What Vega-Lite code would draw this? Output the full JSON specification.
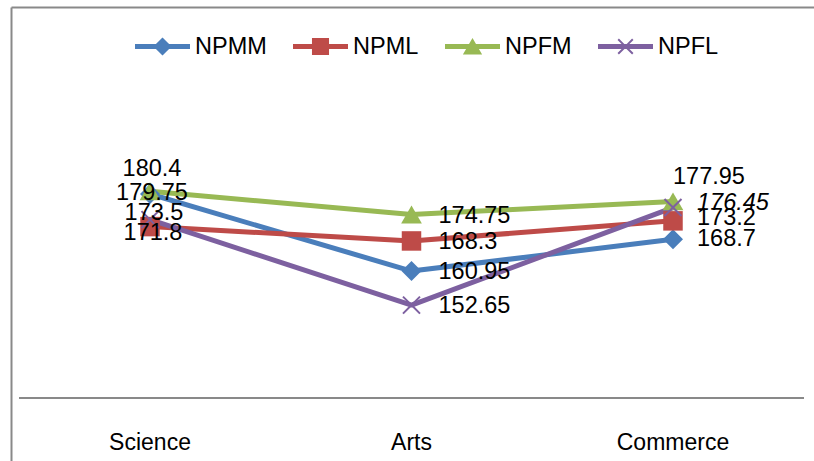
{
  "$schema": "https://vega.github.io/schema/vega-lite/v6.json",
  "width": 803,
  "height": 454,
  "autosize": {"type": "none"},
  "padding": {"left": 11, "top": 7, "right": 0, "bottom": 0},
  "background": "white",
  "config": {"view": {"stroke": null}},
  "data": {
    "values": [
      {"cat": "Science", "series": "NPMM", "value": 179.75},
      {"cat": "Arts", "series": "NPMM", "value": 160.95},
      {"cat": "Commerce", "series": "NPMM", "value": 168.7},
      {"cat": "Science", "series": "NPML", "value": 171.8},
      {"cat": "Arts", "series": "NPML", "value": 168.3},
      {"cat": "Commerce", "series": "NPML", "value": 173.2},
      {"cat": "Science", "series": "NPFM", "value": 180.4},
      {"cat": "Arts", "series": "NPFM", "value": 174.75},
      {"cat": "Commerce", "series": "NPFM", "value": 177.95},
      {"cat": "Science", "series": "NPFL", "value": 173.5},
      {"cat": "Arts", "series": "NPFL", "value": 152.65},
      {"cat": "Commerce", "series": "NPFL", "value": 176.45}
    ]
  },
  "resolve": {"axis": {"x": "independent"}, "scale": {"color": "independent", "shape": "independent"}},
  "encoding": {
    "x": {
      "field": "cat",
      "type": "nominal",
      "sort": ["Science", "Arts", "Commerce"],
      "scale": {"type": "band", "paddingInner": 0, "paddingOuter": 0.0354, "align": 0.446},
      "axis": null
    },
    "y": {
      "field": "value",
      "type": "quantitative",
      "scale": {"domain": [114.63, 225.36], "nice": false, "zero": false},
      "axis": {"orient": "left", "title": null, "labels": false, "ticks": false, "grid": false, "domain": true, "domainColor": "#898989", "domainWidth": 2}
    }
  },
  "layer": [
    {
      "mark": {"type": "rule", "color": "#898989", "strokeWidth": 2},
      "encoding": {
        "x": {"datum": "Science", "type": "nominal", "bandPosition": 0},
        "x2": {"datum": "Commerce", "bandPosition": 1},
        "y": {"datum": 130, "type": "quantitative"}
      }
    },
    {
      "mark": {"type": "line", "strokeWidth": 5, "strokeCap": "round", "strokeJoin": "round"},
      "encoding": {
        "x": {
          "field": "cat",
          "type": "nominal",
          "sort": ["Science", "Arts", "Commerce"],
          "axis": {"orient": "top", "title": null, "labels": false, "ticks": false, "grid": false, "domain": true, "domainColor": "#898989", "domainWidth": 2}
        },
        "color": {
          "field": "series",
          "type": "nominal",
          "scale": {"domain": ["NPMM", "NPML", "NPFM", "NPFL"], "range": ["#4A7EBB", "#BE4B48", "#98B954", "#7D60A0"]},
          "legend": null
        }
      }
    },
    {
      "transform": [{"filter": "datum.series === 'NPMM'"}],
      "mark": {"type": "point", "filled": true, "shape": "diamond", "size": 400, "opacity": 1, "strokeWidth": 0},
      "encoding": {
        "x": {
          "field": "cat",
          "type": "nominal",
          "sort": ["Science", "Arts", "Commerce"],
          "axis": {
            "orient": "bottom",
            "title": null,
            "labelAngle": 0,
            "ticks": false,
            "grid": false,
            "domain": false,
            "labelFont": "Liberation Sans",
            "labelFontSize": 23,
            "labelColor": "#000000",
            "labelPadding": 33,
            "offset": -63
          }
        },
        "color": {
          "field": "series",
          "type": "nominal",
          "scale": {"domain": ["NPMM", "NPML", "NPFM", "NPFL"], "range": ["#4A7EBB", "#BE4B48", "#98B954", "#7D60A0"]},
          "legend": null
        }
      }
    },
    {
      "transform": [{"filter": "datum.series === 'NPML'"}],
      "mark": {"type": "point", "filled": true, "shape": "square", "size": 380, "opacity": 1, "strokeWidth": 0},
      "encoding": {
        "color": {
          "field": "series",
          "type": "nominal",
          "scale": {"domain": ["NPMM", "NPML", "NPFM", "NPFL"], "range": ["#4A7EBB", "#BE4B48", "#98B954", "#7D60A0"]},
          "legend": null
        }
      }
    },
    {
      "transform": [{"filter": "datum.series === 'NPFM'"}],
      "mark": {"type": "point", "filled": true, "shape": "triangle-up", "size": 430, "opacity": 1, "strokeWidth": 0},
      "encoding": {
        "color": {
          "field": "series",
          "type": "nominal",
          "scale": {"domain": ["NPMM", "NPML", "NPFM", "NPFL"], "range": ["#4A7EBB", "#BE4B48", "#98B954", "#7D60A0"]},
          "legend": null
        }
      }
    },
    {
      "transform": [{"filter": "datum.series === 'NPFL'"}],
      "mark": {"type": "point", "filled": true, "shape": "M-0.9,-0.76L-0.76,-0.9L0,-0.14L0.76,-0.9L0.9,-0.76L0.14,0L0.9,0.76L0.76,0.9L0,0.14L-0.76,0.9L-0.9,0.76L-0.14,0Z", "size": 420, "opacity": 1, "strokeWidth": 0},
      "encoding": {
        "color": {
          "field": "series",
          "type": "nominal",
          "scale": {"domain": ["NPMM", "NPML", "NPFM", "NPFL"], "range": ["#4A7EBB", "#BE4B48", "#98B954", "#7D60A0"]},
          "legend": null
        }
      }
    },
    {
      "transform": [{"filter": "false"}],
      "mark": {"type": "point", "filled": true, "opacity": 1, "strokeWidth": 0},
      "encoding": {
        "color": {
          "field": "series",
          "type": "nominal",
          "scale": {"domain": ["NPMM", "NPML", "NPFM", "NPFL"], "range": ["#4A7EBB", "#BE4B48", "#98B954", "#7D60A0"]},
          "legend": {
            "orient": "none",
            "legendX": 124,
            "legendY": 12,
            "direction": "horizontal",
            "title": null,
            "padding": 0,
            "symbolSize": 3025,
            "symbolStrokeWidth": 0,
            "labelFont": "Liberation Sans",
            "labelFontSize": 23.5,
            "labelColor": "#000000",
            "labelOffset": 5,
            "columnPadding": 26
          }
        },
        "shape": {
          "field": "series",
          "type": "nominal",
          "scale": {
            "domain": ["NPMM", "NPML", "NPFM", "NPFL"],
            "range": [
              "M-1,-0.09H1V0.09H-1Z M0,-0.33L0.33,0L0,0.33L-0.33,0Z",
              "M-1,-0.09H1V0.09H-1Z M-0.31,-0.31H0.31V0.31H-0.31Z",
              "M-1,-0.09H1V0.09H-1Z M0,-0.31L0.35,0.29L-0.35,0.29Z",
              "M-1,-0.09H1V0.09H-1Z M-0.29,-0.24L-0.24,-0.29L0,-0.05L0.24,-0.29L0.29,-0.24L0.05,0L0.29,0.24L0.24,0.29L0,0.05L-0.24,0.29L-0.29,0.24L-0.05,0Z"
            ]
          },
          "legend": {
            "orient": "none",
            "legendX": 124,
            "legendY": 12,
            "direction": "horizontal",
            "title": null,
            "padding": 0,
            "symbolSize": 3025,
            "symbolStrokeWidth": 0,
            "labelFont": "Liberation Sans",
            "labelFontSize": 23.5,
            "labelColor": "#000000",
            "labelOffset": 5,
            "columnPadding": 26
          }
        }
      }
    },
    {
      "transform": [{"filter": "datum.cat === 'Science' && datum.series === 'NPFM'"}],
      "mark": {"type": "text", "font": "Liberation Sans", "fontSize": 23.5, "align": "center", "baseline": "middle", "dx": 2, "dy": -22, "color": "#000000"},
      "encoding": {"text": {"field": "value", "type": "nominal"}}
    },
    {
      "transform": [{"filter": "datum.cat === 'Science' && datum.series === 'NPMM'"}],
      "mark": {"type": "text", "font": "Liberation Sans", "fontSize": 23.5, "align": "center", "baseline": "middle", "dx": 2, "dy": -1, "color": "#000000"},
      "encoding": {"text": {"field": "value", "type": "nominal"}}
    },
    {
      "transform": [{"filter": "datum.cat === 'Science' && datum.series === 'NPFL'"}],
      "mark": {"type": "text", "font": "Liberation Sans", "fontSize": 23.5, "align": "center", "baseline": "middle", "dx": 4, "dy": -7, "color": "#000000"},
      "encoding": {"text": {"field": "value", "type": "nominal"}}
    },
    {
      "transform": [{"filter": "datum.cat === 'Science' && datum.series === 'NPML'"}],
      "mark": {"type": "text", "font": "Liberation Sans", "fontSize": 23.5, "align": "center", "baseline": "middle", "dx": 3, "dy": 6, "color": "#000000"},
      "encoding": {"text": {"field": "value", "type": "nominal"}}
    },
    {
      "transform": [{"filter": "datum.cat === 'Arts'"}],
      "mark": {"type": "text", "font": "Liberation Sans", "fontSize": 23.5, "align": "left", "baseline": "middle", "dx": 27, "dy": 1, "color": "#000000"},
      "encoding": {"text": {"field": "value", "type": "nominal"}}
    },
    {
      "transform": [{"filter": "datum.cat === 'Commerce' && datum.series === 'NPFM'"}],
      "mark": {"type": "text", "font": "Liberation Sans", "fontSize": 23.5, "align": "left", "baseline": "middle", "dx": 0, "dy": -24, "color": "#000000"},
      "encoding": {"text": {"field": "value", "type": "nominal"}}
    },
    {
      "transform": [{"filter": "datum.cat === 'Commerce' && datum.series === 'NPFL'"}],
      "mark": {"type": "text", "font": "Liberation Sans", "fontSize": 23.5, "fontStyle": "italic", "align": "left", "baseline": "middle", "dx": 24, "dy": -5, "color": "#000000"},
      "encoding": {"text": {"field": "value", "type": "nominal"}}
    },
    {
      "transform": [{"filter": "datum.cat === 'Commerce' && datum.series === 'NPML'"}],
      "mark": {"type": "text", "font": "Liberation Sans", "fontSize": 23.5, "align": "left", "baseline": "middle", "dx": 24, "dy": -3, "color": "#000000"},
      "encoding": {"text": {"field": "value", "type": "nominal"}}
    },
    {
      "transform": [{"filter": "datum.cat === 'Commerce' && datum.series === 'NPMM'"}],
      "mark": {"type": "text", "font": "Liberation Sans", "fontSize": 23.5, "align": "left", "baseline": "middle", "dx": 24, "dy": 0, "color": "#000000"},
      "encoding": {"text": {"field": "value", "type": "nominal"}}
    }
  ]
}
